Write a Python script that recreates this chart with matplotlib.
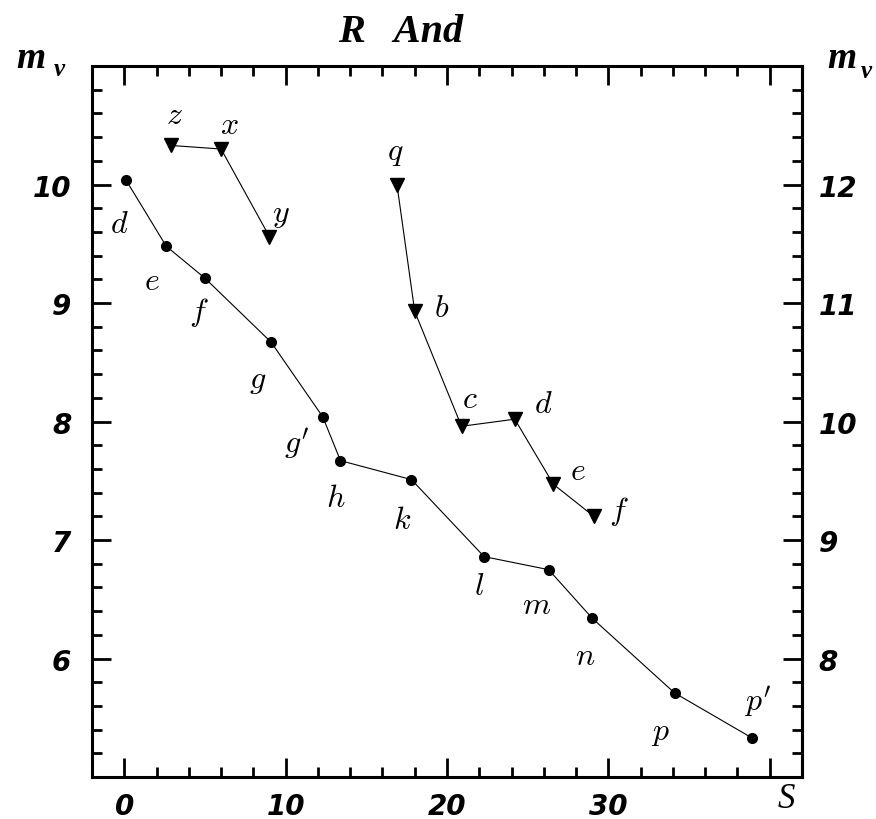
import matplotlib
matplotlib.use('Agg')
import matplotlib.pyplot as plt
from matplotlib.ticker import MultipleLocator, FixedLocator

plt.rcParams['mathtext.fontset'] = 'cm'

# circles: main branch
s_main = [0.1, 2.6, 5.0, 9.1, 12.3, 13.4, 17.8, 22.3, 26.3, 29.0, 34.1, 38.9]
m_main = [10.04, 9.48, 9.21, 8.67, 8.04, 7.67, 7.51, 6.86, 6.75, 6.34, 5.71, 5.33]
lab_main = ['d', 'e', 'f', 'g', "g'", 'h', 'k', 'l', 'm', 'n', 'p', "p'"]

# triangles: two short branches
s_tri1 = [2.9, 6.0, 9.0]
m_tri1 = [10.33, 10.30, 9.56]
lab_tri1 = ['z', 'x', 'y']

s_tri2 = [16.9, 18.0, 20.9, 24.2, 26.6, 29.1]
m_tri2 = [10.0, 8.93, 7.96, 8.02, 7.47, 7.20]
lab_tri2 = ['q', 'b', 'c', 'd', 'e', 'f']

# label offsets in pixels (dx, dy up)
off_main = [(-7, -44), (-14, -34), (-6, -33), (-13, -37), (-26, -26), (-5, -37),
            (-9, -40), (-5, -29), (-12, -35), (-7, -37), (-14, -39), (6, 37)]
off_tri1 = [(3, 31), (8, 25), (11, 23)]
off_tri2 = [(-2, 33), (27, 4), (8, 28), (29, 16), (24, 14), (25, 6)]

fig = plt.figure(figsize=(8.76, 8.2), dpi=100)
ax = fig.add_axes([0.105, 0.0512, 0.8105, 0.8670])

ax.plot(s_main, m_main, color='black', lw=0.8, marker='o', ms=7)
ax.plot(s_tri1, m_tri1, color='black', lw=0.8, marker='v', ms=10)
ax.plot(s_tri2, m_tri2, color='black', lw=0.8, marker='v', ms=10)

lab_kw = dict(textcoords='offset pixels', ha='center', va='center', fontsize=23)
for s, m, t, o in zip(s_main, m_main, lab_main, off_main):
    ax.annotate('$' + t + '$', (s, m), xytext=o, **lab_kw)
for s, m, t, o in zip(s_tri1, m_tri1, lab_tri1, off_tri1):
    ax.annotate('$' + t + '$', (s, m), xytext=o, **lab_kw)
for s, m, t, o in zip(s_tri2, m_tri2, lab_tri2, off_tri2):
    ax.annotate('$' + t + '$', (s, m), xytext=o, **lab_kw)

ax.set_xlim(-2, 42)
ax.set_ylim(5, 11)

tick_font = dict(family='DejaVu Sans', weight='bold', style='italic', size=20)

ax.xaxis.set_major_locator(FixedLocator([0, 10, 20, 30, 40]))
ax.xaxis.set_minor_locator(MultipleLocator(2))
ax.set_xticklabels(['0', '10', '20', '30', ''], fontdict=tick_font)
ax.yaxis.set_major_locator(FixedLocator([6, 7, 8, 9, 10]))
ax.yaxis.set_minor_locator(MultipleLocator(0.2))
ax.set_yticklabels(['6', '7', '8', '9', '10'], fontdict=tick_font)

ax.tick_params(which='both', direction='in', top=True, right=False, width=2, color='black')
ax.tick_params(which='major', length=14)
ax.tick_params(which='minor', length=7)
ax.tick_params(axis='x', which='major', pad=11)
ax.tick_params(axis='y', which='major', pad=15)

sec = ax.secondary_yaxis('right', functions=(lambda y: y + 2, lambda y: y - 2))
sec.yaxis.set_major_locator(FixedLocator([8, 9, 10, 11, 12]))
sec.yaxis.set_minor_locator(MultipleLocator(0.2))
sec.set_yticklabels(['8', '9', '10', '11', '12'], fontdict=tick_font)
sec.tick_params(which='both', direction='in', width=2, color='black')
sec.tick_params(which='major', length=14, pad=12)
sec.tick_params(which='minor', length=7)
sec.spines['right'].set_linewidth(2.2)

for sp in ax.spines.values():
    sp.set_linewidth(2.2)

W, H = 876.0, 820.0
serif_bi = dict(family='Liberation Serif', weight='bold', style='italic')
fig.text(401 / W, 1 - 32 / H, 'R   And', ha='center', va='center', size=29, **serif_bi)
fig.text(786 / W, 1 - 800 / H, 'S', ha='center', va='center', size=25,
         family='Liberation Serif', style='italic')
fig.text(31 / W, 1 - 58 / H, 'm', ha='center', va='center', size=27, **serif_bi)
fig.text(59 / W, 1 - 69 / H, 'v', ha='center', va='center', size=18, **serif_bi)
fig.text(842 / W, 1 - 59 / H, 'm', ha='center', va='center', size=27, **serif_bi)
fig.text(866 / W, 1 - 72 / H, 'v', ha='center', va='center', size=18, **serif_bi)

fig.savefig('out.png', dpi=100)
